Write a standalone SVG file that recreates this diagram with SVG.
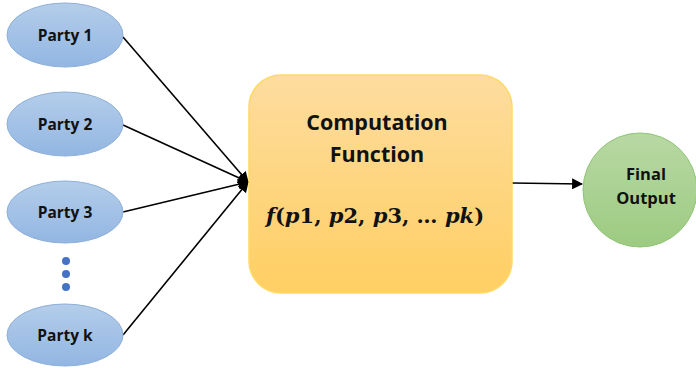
<svg xmlns="http://www.w3.org/2000/svg" width="696" height="368" viewBox="0 0 696 368">
<defs>
<linearGradient id="gBlue" x1="0" y1="0" x2="0" y2="1"><stop offset="0" stop-color="#b4cdea"/><stop offset="1" stop-color="#92b6e2"/></linearGradient>
<linearGradient id="gOrange" x1="0" y1="0" x2="0" y2="1"><stop offset="0" stop-color="#fddc9e"/><stop offset="1" stop-color="#ffcf63"/></linearGradient>
<linearGradient id="gGreen" x1="0" y1="0" x2="0" y2="1"><stop offset="0" stop-color="#b8d8a4"/><stop offset="1" stop-color="#9dcb81"/></linearGradient>
<marker id="arr" viewBox="0 0 10 10" refX="9" refY="5" markerWidth="11" markerHeight="11" markerUnits="userSpaceOnUse" orient="auto"><path d="M0,0 L10,5 L0,10 z" fill="#000"/></marker>
</defs>
<style>
.party{fill:url(#gBlue);stroke:#8eafd8;stroke-width:1}
.lbl{font-family:"Open Sans","Liberation Sans",sans-serif;font-weight:bold;fill:#111;text-anchor:middle}
.conn{stroke:#000;stroke-width:1.6;fill:none;marker-end:url(#arr)}
.math{font-family:"DejaVu Serif","Liberation Serif",serif;font-weight:bold;fill:#111}
.it{font-style:italic}
</style>
<rect width="696" height="368" fill="#fff"/>
<g id="connectors">
<line class="conn" x1="123" y1="37" x2="248" y2="182"/>
<line class="conn" x1="123" y1="125" x2="248" y2="182"/>
<line class="conn" x1="123" y1="212" x2="248" y2="182"/>
<line class="conn" x1="123" y1="335" x2="248" y2="182"/>
<line class="conn" x1="512" y1="183" x2="582" y2="184"/>
</g>
<g id="party1"><ellipse class="party" cx="65" cy="35" rx="58" ry="32"/><text class="lbl" x="65" y="41" font-size="15.5">Party 1</text></g>
<g id="party2"><ellipse class="party" cx="65" cy="124" rx="58" ry="32"/><text class="lbl" x="65" y="130" font-size="15.5">Party 2</text></g>
<g id="party3"><ellipse class="party" cx="65" cy="212" rx="58" ry="31"/><text class="lbl" x="65" y="218" font-size="15.5">Party 3</text></g>
<g id="dots" fill="#4472c4"><circle cx="66" cy="261" r="4"/><circle cx="66" cy="274" r="4"/><circle cx="66" cy="287" r="4"/></g>
<g id="partyk"><ellipse class="party" cx="65" cy="335" rx="58" ry="31"/><text class="lbl" x="65" y="341" font-size="15.5">Party k</text></g>
<g id="computation">
<rect x="249" y="75" width="263" height="218" rx="32" fill="url(#gOrange)" stroke="#ffd966" stroke-width="1.5"/>
<text class="lbl" x="377" y="130" font-size="21.5">Computation</text>
<text class="lbl" x="377" y="162" font-size="21.5">Function</text>
<text class="math" x="375" y="223" font-size="21" text-anchor="middle"><tspan class="it">f</tspan>(<tspan class="it">p</tspan>1, <tspan class="it">p</tspan>2, <tspan class="it">p</tspan>3, … <tspan class="it">pk</tspan>)</text>
</g>
<g id="output">
<circle cx="640" cy="190" r="57" fill="url(#gGreen)" stroke="#8fc475" stroke-width="1"/>
<text class="lbl" x="646" y="180" font-size="16.5">Final</text>
<text class="lbl" x="646" y="204" font-size="16.5">Output</text>
</g>
</svg>
